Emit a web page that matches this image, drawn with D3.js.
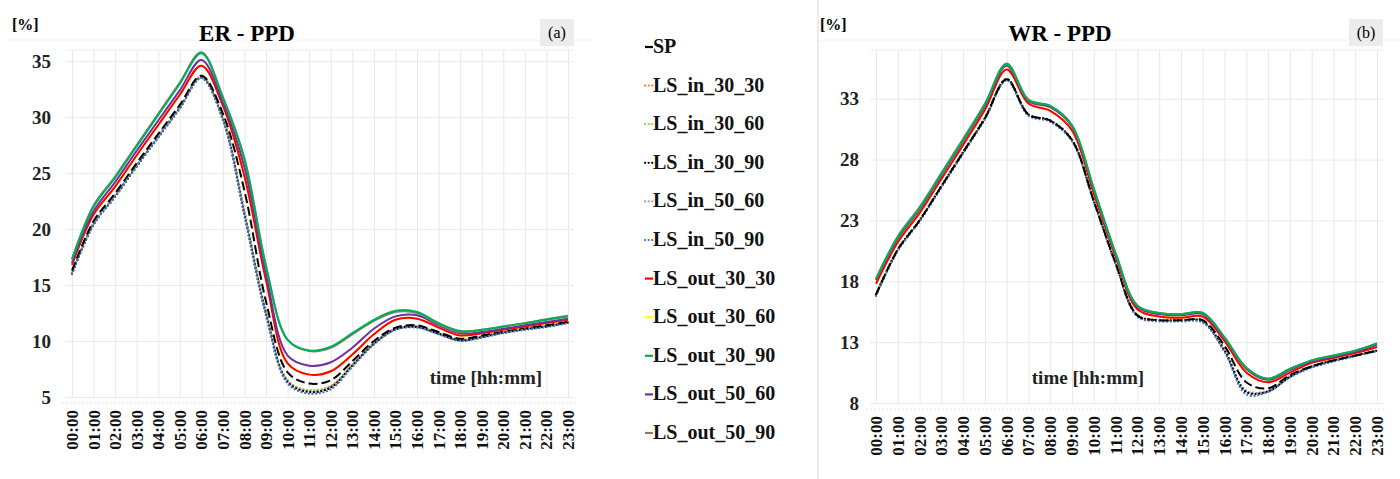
<!DOCTYPE html>
<html>
<head>
<meta charset="utf-8">
<script src="https://cdn.jsdelivr.net/npm/d3@7"></script>
<style>
  body { margin: 0; background: #fff; }
  svg text { font-family: "Liberation Serif", "DejaVu Serif", serif; }
</style>
</head>
<body>
<div id="chart"></div>
<script>
// hours on the x axis
var hours = ["00:00","01:00","02:00","03:00","04:00","05:00","06:00","07:00","08:00","09:00","10:00","11:00",
             "12:00","13:00","14:00","15:00","16:00","17:00","18:00","19:00","20:00","21:00","22:00","23:00"];

var seriesNames = ["SP","LS_in_30_30","LS_in_30_60","LS_in_30_90","LS_in_50_60","LS_in_50_90",
                   "LS_out_30_30","LS_out_30_60","LS_out_30_90","LS_out_50_60","LS_out_50_90"];

var erTicks = [5, 10, 15, 20, 25, 30, 35];
var wrTicks = [8, 13, 18, 23, 28, 33];

// ER - PPD [%]
var erSP       = [16.3,20.7,23.2,25.9,28.5,31.1,33.7,30.3,23.4,13.5,7.2,6.2,6.5,8.2,10.0,11.2,11.4,10.8,10.2,10.5,10.9,11.2,11.4,11.75];
var erIn3030   = [16.1,20.5,23.0,25.7,28.3,30.9,33.6,29.9,21.6,12.6,6.5,5.6,6.0,7.9,9.8,11.1,11.3,10.7,10.1,10.4,10.8,11.1,11.35,11.7];
var erIn3060   = [16.1,20.5,23.0,25.7,28.3,30.9,33.6,29.9,21.5,12.5,6.45,5.55,5.95,7.85,9.8,11.1,11.3,10.7,10.1,10.4,10.8,11.1,11.35,11.7];
var erIn3090   = [16.0,20.4,22.9,25.6,28.2,30.8,33.5,29.8,21.3,12.4,6.35,5.45,5.85,7.8,9.75,11.05,11.25,10.65,10.05,10.35,10.75,11.05,11.3,11.65];
var erIn5060   = [16.1,20.5,23.0,25.7,28.3,30.9,33.6,29.9,21.5,12.5,6.4,5.5,5.9,7.85,9.8,11.1,11.3,10.7,10.1,10.4,10.8,11.1,11.35,11.7];
var erIn5090   = [16.0,20.4,22.9,25.6,28.2,30.8,33.5,29.7,21.1,12.2,6.2,5.3,5.7,7.7,9.7,11.0,11.2,10.6,10.0,10.3,10.7,11.0,11.25,11.6];
var erOut3030  = [16.8,21.3,23.8,26.6,29.3,32.0,34.6,31.0,24.7,15.4,8.0,7.0,7.3,8.8,10.6,11.9,12.0,11.2,10.5,10.7,11.0,11.3,11.6,11.9];
var erOut3060  = [16.8,21.3,23.8,26.6,29.3,32.0,34.6,31.0,24.7,15.4,8.0,7.0,7.3,8.8,10.6,11.9,12.0,11.2,10.5,10.7,11.0,11.3,11.6,11.9];
var erOut3090  = [17.3,22.0,24.6,27.4,30.2,33.0,35.7,31.7,26.2,16.6,10.1,9.15,9.5,10.7,11.9,12.7,12.6,11.6,10.9,11.0,11.3,11.6,11.9,12.2];
var erOut5060  = [17.0,21.6,24.2,27.0,29.7,32.4,35.1,31.3,25.5,15.9,8.7,7.8,8.1,9.4,11.1,12.2,12.3,11.4,10.7,10.8,11.1,11.4,11.7,12.0];
var erOut5090  = [17.3,22.1,24.7,27.5,30.3,33.1,35.8,31.8,26.3,16.7,10.1,9.1,9.4,10.6,11.8,12.6,12.5,11.5,10.8,11.0,11.3,11.6,11.95,12.25];

// WR - PPD [%]
var wrSP       = [16.9,20.6,23.0,25.8,28.6,31.4,34.6,31.7,31.2,29.6,24.6,19.5,15.2,14.8,14.8,14.8,12.7,9.7,9.2,10.3,11.0,11.5,11.9,12.3];
var wrIn3030   = [16.9,20.6,23.0,25.8,28.6,31.4,34.6,31.7,31.2,29.6,24.6,19.5,15.2,14.8,14.8,14.7,12.4,9.0,9.0,10.2,11.0,11.5,11.9,12.3];
var wrIn3060   = [16.9,20.6,23.0,25.8,28.6,31.4,34.6,31.7,31.2,29.6,24.6,19.5,15.2,14.8,14.8,14.7,12.4,9.0,9.0,10.2,11.0,11.5,11.9,12.3];
var wrIn3090   = [16.9,20.6,23.0,25.8,28.6,31.4,34.6,31.7,31.2,29.6,24.6,19.5,15.2,14.8,14.8,14.7,12.3,8.9,8.95,10.15,11.0,11.5,11.9,12.3];
var wrIn5060   = [16.9,20.6,23.0,25.8,28.6,31.4,34.6,31.7,31.2,29.6,24.6,19.5,15.2,14.8,14.8,14.7,12.4,9.0,9.0,10.2,11.0,11.5,11.9,12.3];
var wrIn5090   = [16.8,20.5,22.9,25.7,28.5,31.3,34.5,31.6,31.1,29.5,24.5,19.4,15.1,14.7,14.7,14.6,12.2,8.7,8.9,10.1,10.9,11.4,11.85,12.25];
var wrOut3030  = [17.8,21.2,23.6,26.4,29.2,32.1,35.4,32.6,32.0,30.4,25.2,20.0,15.7,15.1,15.0,15.1,13.1,10.5,9.7,10.5,11.3,11.7,12.1,12.6];
var wrOut3060  = [17.8,21.2,23.6,26.4,29.2,32.1,35.4,32.6,32.0,30.4,25.2,20.0,15.7,15.1,15.0,15.1,13.1,10.5,9.7,10.5,11.3,11.7,12.1,12.6];
var wrOut3090  = [18.2,21.6,24.0,26.8,29.6,32.5,35.8,32.9,32.4,30.8,25.6,20.3,16.0,15.4,15.3,15.4,13.4,10.9,10.0,10.8,11.5,11.9,12.3,12.9];
var wrOut5060  = [18.1,21.5,23.9,26.7,29.5,32.4,35.7,32.8,32.3,30.7,25.5,20.2,15.9,15.3,15.2,15.3,13.3,10.8,9.9,10.7,11.4,11.8,12.2,12.8];
var wrOut5090  = [18.2,21.7,24.1,26.9,29.7,32.6,35.9,32.9,32.4,30.8,25.6,20.3,16.0,15.4,15.3,15.4,13.4,10.9,10.0,10.8,11.5,11.9,12.3,12.9];

var colors = ["#000000","#ed7d31","#92d050","#000000","#a5a5a5","#4472c4",
              "#ff0000","#ffff00","#00b050","#7030a0","#7f7f7f"];
var dashes = ["9,4","0.1,3.6","0.1,3.6","0.1,3.6","0.1,3.6","0.1,3.6",null,null,null,null,null];

var erData = [erSP, erIn3030, erIn3060, erIn3090, erIn5060, erIn5090, erOut3030, erOut3060, erOut3090, erOut5060, erOut5090];
var wrData = [wrSP, wrIn3030, wrIn3060, wrIn3090, wrIn5060, wrIn5090, wrOut3030, wrOut3060, wrOut3090, wrOut5060, wrOut5090];

// draw order: dotted first, then SP, then solid lines
var drawOrder = [1, 2, 4, 3, 5, 0, 7, 6, 9, 10, 8];

var serif = "'Liberation Serif', 'DejaVu Serif', serif";

var svg = d3.select("#chart").append("svg")
    .attr("width", 1400)
    .attr("height", 479);

// chart-area borders
svg.append("line").attr("x1", 10).attr("x2", 592).attr("y1", 40).attr("y2", 40)
  .attr("stroke", "#f0f0f0");
svg.append("line").attr("x1", 818).attr("x2", 818).attr("y1", 0).attr("y2", 479)
  .attr("stroke", "#d8d8d8");
svg.append("line").attr("x1", 818).attr("x2", 1400).attr("y1", 40).attr("y2", 40)
  .attr("stroke", "#f0f0f0");

function drawPanel(p) {
  var x = d3.scalePoint().domain(hours).range([p.x0, p.x1]);
  var y = d3.scaleLinear().domain(p.domain).range([p.bottom, p.top]);
  var g = svg.append("g").attr("font-family", serif);

  // vertical gridlines
  g.append("g")
    .attr("transform", "translate(0," + p.bottom + ")")
    .call(d3.axisBottom(x).tickSize(-(p.bottom - p.top)).tickFormat(""))
    .call(s => s.select(".domain").remove())
    .call(s => s.selectAll("line").attr("stroke", "#e8e8e8"));

  // horizontal gridlines
  g.append("g")
    .attr("transform", "translate(" + (p.x0 - 6) + ",0)")
    .call(d3.axisLeft(y).tickValues(p.ticks).tickSize(-(p.x1 - p.x0 + 12)).tickFormat(""))
    .call(s => s.select(".domain").remove())
    .call(s => s.selectAll("line").attr("stroke", "#e8e8e8"));

  // top border + bottom axis line
  g.append("line").attr("x1", p.x0 - 6).attr("x2", p.x1 + 6)
    .attr("y1", p.top).attr("y2", p.top).attr("stroke", "#ececec");
  g.append("line").attr("x1", p.x0 - 10).attr("x2", p.x1 + 10)
    .attr("y1", p.bottom + 6).attr("y2", p.bottom + 6)
    .attr("stroke", "#e4e4e4").attr("stroke-dasharray", "2,2");

  // y labels
  g.append("g")
    .attr("transform", "translate(" + p.ylabX + ",0)")
    .call(d3.axisLeft(y).tickValues(p.ticks).tickSize(0).tickPadding(0))
    .call(s => s.select(".domain").remove())
    .call(s => s.selectAll("text")
      .attr("font-family", serif)
      .attr("font-size", 19).attr("font-weight", "bold").attr("fill", "#222"));

  // x labels, rotated
  g.append("g").selectAll("text")
    .data(hours)
    .enter()
    .append("text")
      .attr("transform", d => "translate(" + (x(d) + 6) + "," + (p.bottom + 13) + ") rotate(-90)")
      .attr("text-anchor", "end")
      .attr("font-size", 17).attr("font-weight", "bold").attr("fill", "#111")
      .text(d => d);

  // lines
  var line = d3.line()
    .x((d, i) => x(hours[i]))
    .y(d => y(d))
    .curve(d3.curveCatmullRom.alpha(0.5));

  drawOrder.forEach(function(k) {
    g.append("path")
      .datum(p.data[k])
      .attr("fill", "none")
      .attr("stroke", colors[k])
      .attr("stroke-width", dashes[k] && k > 0 ? 2.2 : 2)
      .attr("stroke-linecap", dashes[k] && k > 0 ? "round" : "butt")
      .attr("stroke-dasharray", dashes[k])
      .attr("d", line);
  });

  // texts
  g.append("text").attr("x", p.titleX).attr("y", 41).attr("text-anchor", "middle")
    .attr("font-size", 23).attr("font-weight", "bold").text(p.title);
  g.append("text").attr("x", p.unitX).attr("y", 30)
    .attr("font-size", 16).attr("font-weight", "bold").text("[%]");
  g.append("rect").attr("x", p.tagX - 17).attr("y", 19).attr("width", 34).attr("height", 27)
    .attr("fill", "#ececec");
  g.append("text").attr("x", p.tagX).attr("y", 38).attr("text-anchor", "middle")
    .attr("font-size", 16).text(p.tag);
  g.append("text").attr("x", p.timeX).attr("y", 384).attr("text-anchor", "middle")
    .attr("font-size", 19).attr("font-weight", "bold").attr("fill", "#222").text("time [hh:mm]");
}

drawPanel({data: erData, domain: [5, 36], ticks: erTicks, x0: 72, x1: 568, top: 50, bottom: 397,
           ylabX: 51, title: "ER - PPD", titleX: 247, unitX: 12, tag: "(a)", tagX: 557, timeX: 486});
drawPanel({data: wrData, domain: [8, 37], ticks: wrTicks, x0: 876, x1: 1377, top: 50, bottom: 403,
           ylabX: 859, title: "WR - PPD", titleX: 1060, unitX: 820, tag: "(b)", tagX: 1366, timeX: 1088});

// legend
var legend = svg.append("g").attr("transform", "translate(645,0)").attr("font-family", serif);
seriesNames.forEach(function(name, i) {
  var yy = 47 + i * 38.6;
  legend.append("line")
    .attr("x1", 0).attr("x2", 8).attr("y1", yy).attr("y2", yy)
    .attr("stroke", colors[i])
    .attr("stroke-width", 2.2)
    .attr("stroke-linecap", i >= 1 && i <= 5 ? "round" : "butt")
    .attr("stroke-dasharray", i >= 1 && i <= 5 ? "0.1,3.5" : null);
  legend.append("text")
    .attr("x", 8).attr("y", yy + 6)
    .attr("font-size", 20).attr("font-weight", "bold").attr("fill", "#111")
    .text(name);
});
</script>
</body>
</html>
